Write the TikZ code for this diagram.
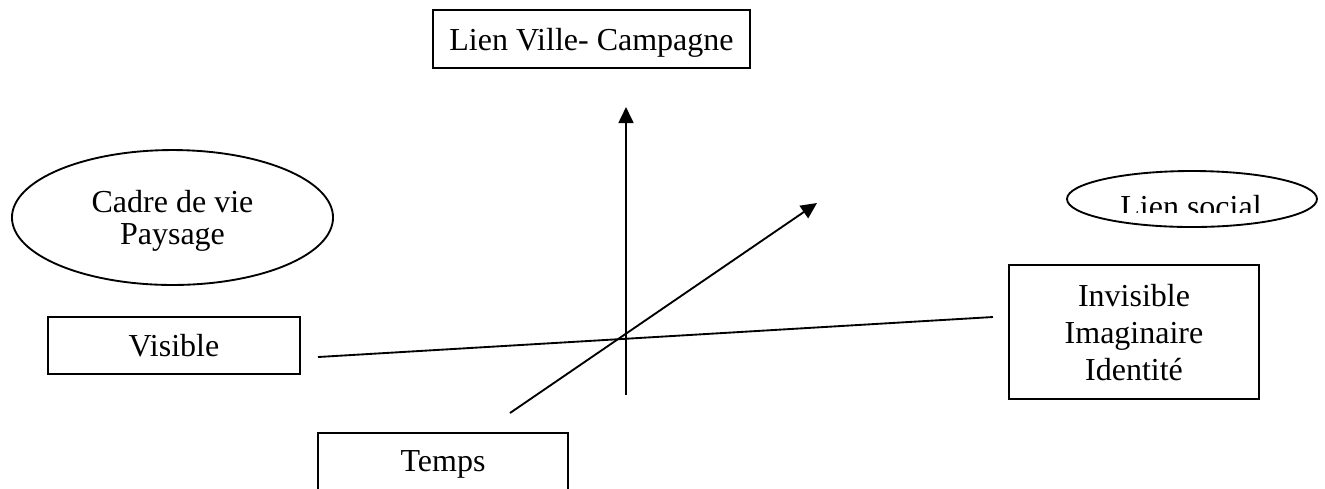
\documentclass[tikz,border=0pt]{standalone}
\usepackage{fontspec}
\setmainfont{Liberation Serif}
\usetikzlibrary{arrows.meta,shapes.geometric}
\begin{document}
\begin{tikzpicture}[x=0.375pt,y=-0.375pt,
  every node/.style={font=\fontsize{12}{13.9}\selectfont},
  box/.style={draw,line width=0.7pt,rectangle,inner sep=0pt,align=center,text depth=0pt},
  oval/.style={draw,line width=0.7pt,ellipse,inner sep=0pt,align=center,text depth=0pt},
  axis/.style={line width=0.7pt},
  axisarrow/.style={line width=0.7pt,-{Triangle[length=6pt,width=5.6pt]}}]
\useasboundingbox (0,0) rectangle (1325,488);
% boxes
\node[box,minimum width=118.9pt,minimum height=21.75pt] (lien) at (591.5,39) {Lien Ville- Campagne};
\node[box,minimum width=94.5pt,minimum height=21.4pt] (visible) at (174,345.5) {Visible};
\node[box,minimum width=93.75pt,minimum height=50.25pt] (invisible) at (1134,332) {Invisible\\Imaginaire\\Identit\'e};
\node[box,minimum width=93.75pt,minimum height=21.4pt] (temps) at (443,461.5) {Temps};
% ellipses
\node[oval,minimum width=120.4pt,minimum height=50.6pt,font=\fontsize{12}{12}\selectfont] (cadre) at (172.5,217.5) {Cadre de vie\\Paysage};
\node[oval,minimum width=93.75pt,minimum height=21pt] (social) at (1192,199) {};
\begin{scope}
  \clip (1090,150) rectangle (1295,212);
  \node[anchor=base,inner sep=0pt] (socialtxt) at (1191,217) {Lien social};
\end{scope}
% axes
\coordinate (vbot) at (626,395);
\coordinate (vtop) at (626,107);
\coordinate (dbot) at (510,413);
\coordinate (dtop) at (817,203);
\coordinate (hleft) at (318,357);
\coordinate (hright) at (993,317);
\draw[axisarrow] (vbot) -- (vtop);
\draw[axisarrow] (dbot) -- (dtop);
\draw[axis] (hleft) -- (hright);
\end{tikzpicture}
\end{document}
